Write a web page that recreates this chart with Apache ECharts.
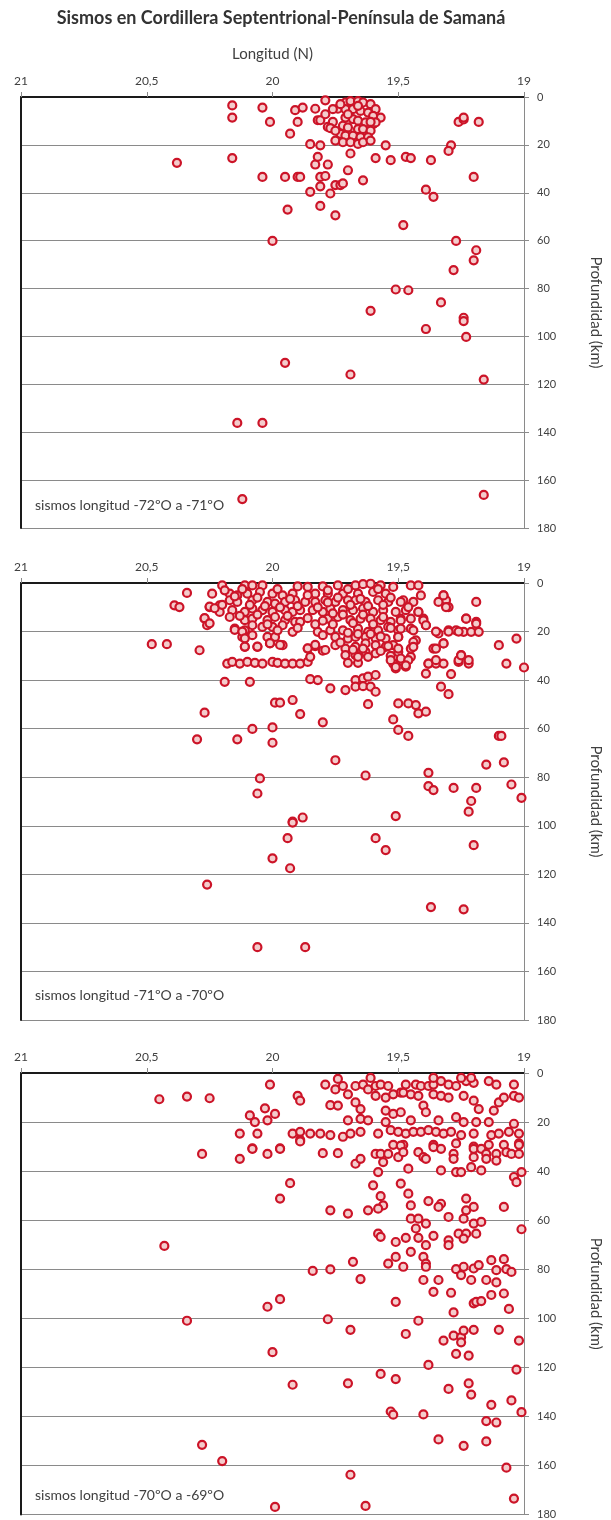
<!DOCTYPE html>
<html><head><meta charset="utf-8">
<script src="https://cdn.jsdelivr.net/npm/echarts@6/dist/echarts.min.js"></script>
<style>html,body{margin:0;padding:0;background:#fff}#c{width:611px;height:1520px}</style>
</head><body><div id="c"></div>
<script>
const chartTitle = 'Sismos en Cordillera Septentrional-Península de Samaná';
const xAxisTitle = 'Longitud (N)';
const yAxisTitle = 'Profundidad (km)';
const panelLabels = ['sismos longitud -72ºO a -71ºO', 'sismos longitud -71ºO a -70ºO', 'sismos longitud -70ºO a -69ºO'];
const latRange = [19, 21];
const depthRange = [0, 180];

// [latitud, profundidad]
const sismos72a71 = [
[20.16,3.5],[20.04,4.4],[20.16,8.6],[20.01,10.4],[19.93,15.3],[19.91,5.5],[19.88,4.4],[19.90,10.4],[19.83,4.9],[19.79,1.4],[19.82,9.7],[19.81,9.7],[19.78,12.5],[19.76,10.4],[19.74,4.9],[19.79,7.2],[19.77,13],
[19.71,2.3],[19.69,1.7],[19.66,1.7],[19.64,2.3],[19.61,3.0],[19.59,5.1],[19.57,8.6],[19.71,5.1],[19.68,5.1],[19.65,5.8],[19.62,6.5],[19.60,7.9],[19.71,8.6],[19.68,9.2],[19.66,9.9],[19.63,10.6],[19.60,11.3],[19.72,12.0],[19.70,12.7],[19.66,13.4],[19.64,13.4],[19.61,14.1],[19.73,15.4],[19.71,16.1],[19.68,16.1],[19.65,16.8],[19.62,16.8],[19.75,18.2],[19.72,18.9],[19.69,18.9],[19.66,19.6],[19.64,18.9],[19.61,18.2],[19.75,14.1],[19.59,10.6],[19.76,5.1],[19.73,3.0],[19.70,7.2],[19.66,3.7],
[19.61,10.4],[19.55,20.2],[19.69,23.6],[19.81,20.2],[19.85,19.7],[19.59,25.5],[19.53,26.4],[19.47,25],[19.45,25.5],[19.37,26.4],[19.29,20.2],[19.30,22.5],[19.26,10.4],[19.24,9.4],[19.24,8.6],[19.18,10.4],[19.20,33.4],[19.39,38.7],[19.36,41.7],[19.48,53.5],[19.27,60.1],[19.19,64],[19.20,68.2],[19.28,72.3],[20.0,60.1],[20.38,27.5],[20.16,25.5],[20.04,33.4],[19.95,33.4],[19.90,33.4],[19.89,33.4],[19.81,33.4],[19.79,33],[19.81,37.3],[19.85,39.6],[19.77,40.3],[19.75,36.8],[19.73,36.8],[19.72,36.1],[19.70,30.6],[19.64,34.8],[19.94,47],[19.81,45.5],[19.75,49.4],[19.78,28.2],[19.83,28.2],[19.82,25],
[19.51,80.4],[19.46,80.7],[19.33,85.8],[19.61,89.3],[19.24,92.2],[19.24,93.6],[19.39,96.9],[19.23,100.2],[19.95,111],[19.69,115.9],[19.16,118],[20.14,136.1],[20.04,136.1],[20.12,167.9],[19.16,166.2]
];

const sismos71a70 = [
[20.20,1],[20.11,1],[20.08,1],[20.04,1],[19.90,1.4],[19.86,1.6],[19.80,1.4],[19.74,1],[19.67,1],[19.64,0.5],[19.61,0.3],[19.57,1],[19.52,1.6],[19.45,1],[19.42,1],
[20.34,4.1],[20.24,4.4],[20.17,4.4],[20.14,5.1],[20.10,4.4],[20.05,3.7],[20.0,4.4],[19.96,5.1],[19.92,4.4],[19.83,4.4],[19.78,4.4],[19.72,4.4],[19.66,4.4],[19.60,3.7],[19.55,4.4],[19.41,5.1],[19.32,5.1],
[20.39,9.2],[20.37,9.9],[20.25,9.9],[20.21,9.2],[20.17,7.1],[20.14,7.8],[20.08,7.1],[20.02,7.8],[19.99,8.5],[19.95,7.8],[19.91,7.1],[19.87,7.8],[19.83,7.8],[19.79,7.1],[19.75,7.8],[19.70,7.1],[19.67,7.1],[19.63,7.8],[19.58,7.1],[19.54,7.8],[19.48,7.1],[19.44,7.8],[19.31,7.1],[19.19,7.8],[19.30,9.9],
[20.21,11.9],[20.16,11.2],[20.11,11.9],[20.08,10.5],[20.04,11.2],[20.0,11.9],[19.95,11.2],[19.92,11.9],[19.89,11.2],[19.84,11.2],[19.80,11.9],[19.77,10.5],[19.72,11.2],[19.68,11.2],[19.64,10.5],[19.60,11.9],[19.56,11.2],[19.51,11.9],[19.47,11.2],[19.42,11.9],
[20.27,14.7],[20.26,17.4],[20.17,14],[20.11,15.3],[20.08,14.7],[20.02,15.3],[19.99,14],[19.95,15.3],[19.91,16],[19.89,16],[19.78,14.7],[19.74,14],[19.69,15.3],[19.65,14.7],[19.61,14.7],[19.57,15.3],[19.53,16],[19.49,14.7],[19.40,14.7],[19.39,17.4],[19.23,14.7],[19.19,16],
[20.15,18.8],[20.11,19.5],[20.08,17.4],[20.04,18.1],[20.0,18.1],[19.96,17.4],[19.92,20.1],[19.82,20.1],[19.77,19.5],[19.72,19.5],[19.66,18.8],[19.62,20.1],[19.58,19.5],[19.54,18.1],[19.50,19.5],[19.45,18.8],[19.34,20.8],[19.30,19.5],[19.27,19.5],[19.24,20.1],[19.21,20.1],[19.18,20.1],
[20.12,22.2],[20.08,21.5],[20.02,22.2],[19.99,22.2],[19.80,21.5],[19.75,22.2],[19.70,22.9],[19.67,22.2],[19.63,22.2],[19.59,22.9],[19.55,22.9],[19.50,22.2],[19.43,23.6],[19.32,24.9],[19.03,22.9],
[20.48,25.2],[20.42,25.2],[20.29,27.7],[20.11,26.3],[20.06,26.3],[20.01,24.9],[19.96,25.6],[19.86,27],[19.83,26],[19.80,27.9],[19.75,25.6],[19.71,27],[19.67,26.3],[19.63,24.9],[19.59,25.6],[19.55,26.3],[19.52,25.6],[19.45,27],[19.36,27],[19.10,25.6],
[19.71,29.7],[19.67,29.7],[19.63,28.4],[19.59,29],[19.50,28.4],[19.45,30.4],[19.25,29.7],
[20.18,33.2],[20.16,32.5],[20.13,33.2],[20.10,32.5],[20.07,32.9],[20.04,33.2],[20.0,32.5],[19.98,32.9],[19.95,33.2],[19.92,33.2],[19.89,33.2],[19.86,32.5],[19.70,32.9],[19.66,32.9],[19.52,33.2],[19.48,32.5],[19.47,34.5],[19.51,35.2],[19.38,33.2],[19.35,33.2],[19.32,33.2],[19.26,32.5],[19.22,33.2],[19.07,33.2],[19.0,34.8],[19.39,37.3],[19.29,37.5],[19.85,30.4],[19.66,30.4],[19.62,30.4],
[20.19,40.7],[20.09,40.7],[19.85,39.6],[19.82,40],[19.67,40],[19.64,39.3],[19.62,38.6],[19.59,37.9],
[19.77,43.4],[19.71,44.1],[19.67,42.7],[19.64,42.5],[19.61,42.7],[19.59,44.8],[19.33,42.7],[19.30,45.8],
[19.99,49.3],[19.97,49.3],[19.92,48.2],[19.62,49.9],[19.50,49.6],[19.46,49.6],[19.43,50.3],[19.42,53.7],[19.39,53],
[20.27,53.4],[19.89,54],[19.80,57.4],[19.52,56.2],[19.50,60.5],[19.46,63],[20.08,60.1],[20.0,59.5],[20.30,64.4],[20.14,64.4],[20.0,65.8],[19.10,63],[19.09,63],
[19.75,73],[19.15,74.8],[19.08,73.9],[19.63,79.3],[19.38,78.2],[20.05,80.5],[20.06,86.7],[19.38,83.7],[19.36,85.3],[19.28,84.4],[19.19,84.4],[19.05,83],[19.01,88.5],[19.21,89.8],[19.22,94.2],[19.51,96],[19.88,96.6],[19.92,98.3],[19.92,98.7],[19.94,105.1],[19.59,105.1],[19.55,110],[19.20,108],[20.0,113.4],[19.93,117.5],[20.26,124.2],[19.37,133.5],[19.24,134.4],[20.06,150],[19.87,150],
[20.19,3],[20.15,5.5],[20.12,2.5],[20.09,9],[20.06,6],[20.03,9.5],[19.98,2.5],[19.97,10],[19.93,6.5],[19.90,9.5],[19.86,5],[19.82,10],[19.78,8],[20.13,13.5],[20.06,13],[20.02,17],[19.98,19.5],[19.94,13.5],[19.90,18.5],[19.86,14.5],[19.83,17],[19.80,15.5],[19.76,12.5],[20.15,19.3],[20.12,20],[20.11,22.8],[20.11,26.2],[20.06,26.2],[20.01,24.8],[19.97,25.5],[19.86,26.9],[19.83,25.5],[19.79,27.6],[20.25,9.7],[20.23,10.4],[20.20,9],[20.27,14.5],[20.25,16.6],
[19.78,3],[19.74,6],[19.70,2.5],[19.69,9],[19.65,6.5],[19.62,9.5],[19.58,2.5],[19.56,9],[19.53,6],[19.72,13],[19.68,16.5],[19.64,13],[19.60,17],[19.56,14],[19.53,18.5],[19.76,17],[19.70,20.5],[19.66,21],[19.61,21],[19.57,22],[19.54,26],[19.73,24.5],[19.68,27.5],[19.64,27],[19.57,28],[19.53,30],
[19.34,7.8],[19.32,5.1],[19.31,9.9],[19.23,14.7],[19.19,16.7],[19.35,20],[19.30,20],[19.26,20],[19.40,15.4],[19.39,17.4],[19.35,27],[19.32,24.9],[19.38,33.2],[19.35,31.8],[19.26,31.8],[19.22,31.8],[19.25,29.8],
[19.49,7.8],[19.46,9.9],[19.42,11.9],[19.45,14.7],[19.49,15.4],[19.49,18.8],[19.50,22.2],[19.44,19.5],[19.50,27],[19.44,24.3],[19.44,26.3],[19.49,31.1],[19.46,31.8],[19.47,33.9],[19.51,34.6],[19.53,31.8]
];

const sismos70a69 = [
[19.79,4.7],[19.74,2.4],[19.75,6.7],[19.72,5.3],[19.70,8.7],[19.67,5.3],[19.64,4.7],[19.62,6.7],[19.59,5.3],[19.57,4.7],[19.54,5.3],[19.49,8],[19.47,4.7],[19.43,4.7],[19.41,5.3],[19.38,5.3],[19.36,4.7],[19.33,3.3],[19.30,4.7],[19.27,5.3],[19.23,3.3],[19.20,4],[19.14,3.3],[19.11,4.7],[19.04,4.7],[19.61,2],[19.36,2],[19.25,2],[19.21,2],[20.01,4.7],
[20.45,10.7],[20.34,9.6],[20.25,10.3],[19.90,9.3],[19.89,11.3],[19.77,13.1],[19.74,13.3],[19.67,12],[19.65,14.7],[19.59,9.3],[19.55,10],[19.52,8.7],[19.48,8],[19.45,8.7],[19.42,9.3],[19.36,8.7],[19.33,9.3],[19.30,10],[19.24,9.3],[19.20,11.3],[19.10,12],[19.08,10],[19.04,9.3],[19.02,10],
[20.03,14.4],[20.09,17.3],[20.07,20],[20.02,19.3],[19.99,16.7],[19.70,19.3],[19.65,18.7],[19.62,19.3],[19.55,15.3],[19.55,20],[19.52,16.7],[19.49,16],[19.45,19.3],[19.40,13.3],[19.39,16],[19.34,19.3],[19.27,18],[19.24,20],[19.19,20],[19.18,14.7],[19.14,20],[19.12,15.3],[19.04,20.7],
[20.13,24.7],[20.06,24.7],[19.92,24.7],[19.89,24],[19.85,24.7],[19.81,24.7],[19.77,25.3],[19.72,26],[19.69,24.7],[19.65,24],[19.58,24.7],[19.53,23.3],[19.50,24],[19.47,24.7],[19.44,24],[19.41,24],[19.38,23.3],[19.35,24],[19.32,24.7],[19.29,24],[19.25,25.3],[19.20,24.7],[19.13,25.3],[19.10,24.7],[19.06,24],[19.02,24.7],
[19.48,29.3],[19.36,29.3],[19.27,28.7],[19.20,30],[19.14,29.3],[19.08,29.3],[19.02,28.7],[20.08,30.7],[19.97,30.7],[19.89,27.3],[19.52,29.3],
[20.28,33],[20.13,35],[20.08,30.9],[20.02,33],[19.97,30.9],[19.89,27.9],[19.80,32.7],[19.74,32.7],[19.67,37],[19.65,35],[19.59,33],[19.57,33],[19.54,33],[19.56,36.3],[19.50,34.3],[19.49,29.6],[19.48,32.3],[19.42,32.3],[19.40,34.3],[19.39,35],[19.36,30.2],[19.33,30.9],[19.28,33],[19.28,35],[19.20,30.9],[19.20,34.3],[19.17,30.9],[19.15,33],[19.15,35],[19.11,33],[19.11,35.7],[19.07,32.3],[19.05,33],[19.02,33],[19.02,29.3],
[19.58,40.4],[19.46,39],[19.33,39.7],[19.27,40.4],[19.25,40.4],[19.21,38.4],[19.17,39.7],[19.04,42.4],[19.03,44.5],[19.01,40.4],[19.93,44.9],[19.60,45.8],[19.49,45.1],
[19.97,51.2],[19.57,50.2],[19.56,54],[19.46,49.2],[19.45,54],[19.38,52.2],[19.33,53.3],[19.34,54.6],[19.23,51.2],[19.23,56],[19.20,54.6],[19.08,54.6],[19.77,56],[19.70,57.3],[19.62,56],[19.58,55.3],
[19.45,59.4],[19.42,59.4],[19.43,63.4],[19.39,61.4],[19.30,58.7],[19.24,59.4],[19.20,61.4],[19.17,60.7],[19.01,63.7],[19.58,65.5],[19.57,66.8],[19.51,68.9],[19.47,67.2],[19.42,67.2],[19.39,70.2],[19.36,66.4],[19.30,68.2],[19.30,70.2],[19.26,65.5],[19.23,65.5],[19.24,67.5],[19.19,65.5],[20.43,70.5],
[19.68,77],[19.54,77.7],[19.51,75],[19.45,72.9],[19.48,79],[19.40,75],[19.39,77.7],[19.39,79],[19.27,80],[19.25,82.4],[19.24,79],[19.20,79.7],[19.18,78.3],[19.13,76.3],[19.11,80.4],[19.08,75.9],[19.07,80],[19.05,81.1],[19.84,80.7],[19.77,80.1],
[19.65,84],[19.40,84.4],[19.34,84.4],[19.36,89.2],[19.29,89.6],[19.21,84.4],[19.15,84.4],[19.11,85.4],[19.51,93.3],[19.20,93.9],[19.19,93.3],[19.17,93],[19.13,90.5],[19.08,89.9],[19.06,96.2],[19.28,97.6],[20.02,95.3],[19.97,92.2],[20.34,101],[19.78,100.4],[19.42,101],
[19.69,104.7],[19.47,106.4],[19.32,109.1],[19.28,107.1],[19.25,107.7],[19.25,109.8],[19.24,105],[19.20,104.7],[19.10,104.7],[19.02,109.1],[20.0,113.8],[19.27,114.5],[19.22,115.2],[19.38,119],[19.03,120.9],[19.57,122.7],[19.51,124.8],[19.92,127.1],[19.70,126.5],[19.30,128.8],[19.22,126.5],[19.21,131.1],[19.13,135.3],[19.05,133.5],[19.01,138.3],[19.53,138],[19.52,139.3],[19.40,139.2],[19.15,141.9],[19.11,142.5],[20.28,151.6],[19.34,149.4],[19.24,152],[19.15,150.2],[20.20,158.2],[19.07,160.9],[19.69,163.8],[19.99,176.9],[19.63,176.5],[19.04,173.5]
];

const panels = [sismos72a71, sismos71a70, sismos70a69];

const FONT = 'Lato, "Liberation Sans", sans-serif';
const TXT = '#404040';
const GRAY = '#8a8a8a';
const gridBoxes = [
  {left: 21, right: 75, top: 97, height: 431},
  {left: 21, right: 75, top: 583, height: 437},
  {left: 21, right: 75, top: 1073, height: 444}
];
const labelY = [505, 995, 1495];

const xAxes = [], yAxes = [], series = [];
panels.forEach((data, i) => {
  xAxes.push({
    gridIndex: i, type: 'value', min: latRange[0], max: latRange[1], interval: 0.5, inverse: true, position: 'top',
    axisLine: {show: true, lineStyle: {color: GRAY, width: 1}},
    axisTick: {show: true, inside: false, length: 5, lineStyle: {color: GRAY}},
    axisLabel: {margin: 10, fontSize: 12, color: TXT, fontFamily: FONT, formatter: v => String(v).replace('.', ',')},
    splitLine: {show: false},
    name: i === 0 ? xAxisTitle : '', nameLocation: 'middle', nameGap: 35,
    nameTextStyle: {fontSize: 15, color: TXT, fontFamily: FONT}
  });
  xAxes.push({
    gridIndex: i, type: 'value', min: latRange[0], max: latRange[1], inverse: true, position: 'bottom',
    axisLine: {show: true, lineStyle: {color: '#1a1a1a', width: 2}},
    axisTick: {show: false}, axisLabel: {show: false}, splitLine: {show: false}
  });
  yAxes.push({
    gridIndex: i, type: 'value', min: depthRange[0], max: depthRange[1], interval: 20, inverse: true, position: 'right',
    axisLine: {show: true, lineStyle: {color: GRAY, width: 1}},
    axisTick: {show: true, inside: false, length: 5, lineStyle: {color: GRAY}},
    axisLabel: {margin: 13, fontSize: 11, color: TXT, fontFamily: FONT},
    splitLine: {show: true, lineStyle: {color: GRAY, width: 1.2}},
    name: yAxisTitle, nameLocation: 'middle', nameRotate: -90, nameGap: 64,
    nameTextStyle: {fontSize: 15, color: TXT, fontFamily: FONT}
  });
  yAxes.push({
    gridIndex: i, type: 'value', min: depthRange[0], max: depthRange[1], inverse: true, position: 'left',
    axisLine: {show: true, lineStyle: {color: '#1a1a1a', width: 2}},
    axisTick: {show: false}, axisLabel: {show: false}, splitLine: {show: false}
  });
  series.push({
    type: 'scatter', xAxisIndex: 2 * i, yAxisIndex: 2 * i, data: data,
    symbol: 'circle', symbolSize: 8,
    itemStyle: {color: '#f4cccc', borderColor: '#cc1428', borderWidth: 2.2, opacity: 1},
    emphasis: {disabled: true}
  });
});

const graphics = [{
  type: 'text', x: 281, y: 18,
  style: {text: chartTitle, textAlign: 'center', textVerticalAlign: 'middle', font: 'bold 18px ' + FONT, fill: '#333'}
}];
panelLabels.forEach((t, i) => {
  graphics.push({type: 'text', x: 35, y: labelY[i], z: 10,
    style: {text: t, textAlign: 'left', textVerticalAlign: 'middle', font: '14px ' + FONT, fill: TXT}});
});

const chart = echarts.init(document.getElementById('c'), null, {renderer: 'canvas'});
chart.setOption({
  animation: false,
  backgroundColor: '#fff',
  grid: gridBoxes,
  xAxis: xAxes,
  yAxis: yAxes,
  series: series,
  graphic: graphics
});
</script></body></html>
